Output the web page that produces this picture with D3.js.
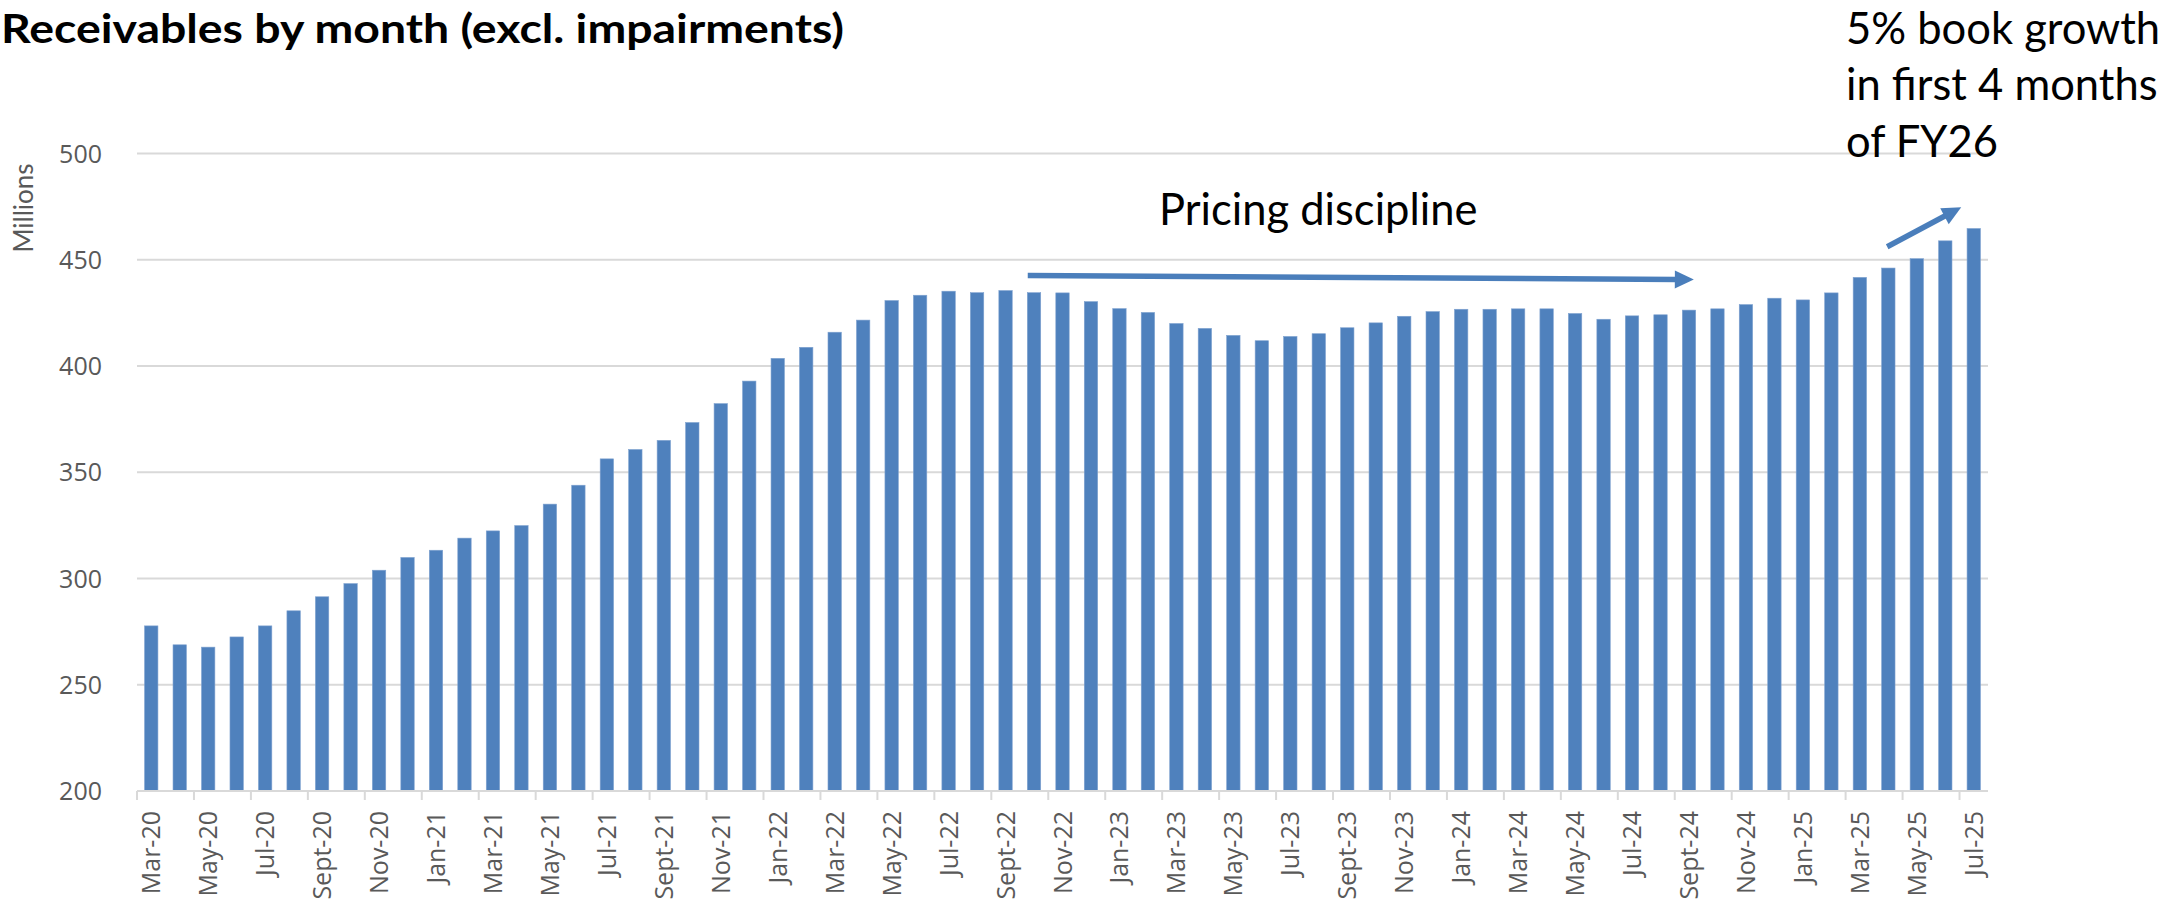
<!DOCTYPE html>
<html>
<head>
<meta charset="utf-8">
<script src="https://cdn.jsdelivr.net/npm/d3@7"></script>
<style>
  body { margin: 0; background: #fff; }
  svg { display: block; }
</style>
</head>
<body>
<svg width="2167" height="903"></svg>
<script>
// months, Mar-20 .. Jul-25
let months = [
  "Mar-20", "Apr-20", "May-20", "Jun-20", "Jul-20", "Aug-20", "Sept-20", "Oct-20", "Nov-20", "Dec-20",
  "Jan-21", "Feb-21", "Mar-21", "Apr-21", "May-21", "Jun-21", "Jul-21", "Aug-21", "Sept-21", "Oct-21", "Nov-21", "Dec-21",
  "Jan-22", "Feb-22", "Mar-22", "Apr-22", "May-22", "Jun-22", "Jul-22", "Aug-22", "Sept-22", "Oct-22", "Nov-22", "Dec-22",
  "Jan-23", "Feb-23", "Mar-23", "Apr-23", "May-23", "Jun-23", "Jul-23", "Aug-23", "Sept-23", "Oct-23", "Nov-23", "Dec-23",
  "Jan-24", "Feb-24", "Mar-24", "Apr-24", "May-24", "Jun-24", "Jul-24", "Aug-24", "Sept-24", "Oct-24", "Nov-24", "Dec-24",
  "Jan-25", "Feb-25", "Mar-25", "Apr-25", "May-25", "Jun-25", "Jul-25"
];

// receivables, millions
let receivables = [
  277.7, 268.8, 267.7, 272.5, 277.7, 284.8, 291.4, 297.6, 303.9, 309.9,
  313.3, 319.0, 322.4, 324.9, 335.0, 343.9, 356.3, 360.7, 365.0, 373.4, 382.3, 392.9,
  403.6, 408.8, 415.9, 421.6, 430.8, 433.3, 435.2, 434.5, 435.5, 434.5, 434.4, 430.3,
  427.0, 425.2, 420.0, 417.7, 414.4, 411.9, 413.9, 415.2, 418.0, 420.3, 423.4, 425.6,
  426.7, 426.7, 426.9, 426.9, 424.7, 422.0, 423.6, 424.1, 426.3, 426.9, 428.9, 431.9,
  431.1, 434.4, 441.7, 446.1, 450.5, 458.9, 464.7
];

let yTicks = [200, 250, 300, 350, 400, 450, 500];

let titleText = "Receivables by month (excl. impairments)";
let growthLines = ["5% book growth", "in first 4 months", "of FY26"];

let s = d3.select("svg");
let plotL = 137, plotR = 1988, plotT = 153.5, plotB = 791;
let tickFont = "'Open Sans'";

let x = d3.scaleBand()
    .domain(months)
    .range([plotL, plotR])
    .paddingInner(0.53)
    .paddingOuter(0.265);

let y = d3.scaleLinear()
    .domain([200, 500])
    .range([plotB, plotT]);

// position in category units, for the arrows
let xi = d3.scaleLinear().domain([0, months.length]).range([plotL, plotR]);

// gridlines
s.append("g")
    .selectAll("line")
    .data(yTicks.slice(1))
    .join("line")
    .attr("x1", plotL)
    .attr("x2", plotR)
    .attr("y1", d => y(d))
    .attr("y2", d => y(d))
    .attr("stroke", "#d9d9d9")
    .attr("stroke-width", 2);

// y tick labels
s.append("g")
    .selectAll("text")
    .data(yTicks)
    .join("text")
    .attr("x", 102)
    .attr("y", d => y(d))
    .attr("dy", "0.36em")
    .attr("text-anchor", "end")
    .attr("fill", "#595959")
    .style("font-family", tickFont)
    .style("font-size", "25px")
    .text(d => d);

// Millions
s.append("text")
    .attr("transform", "translate(33, 208) rotate(-90)")
    .attr("text-anchor", "middle")
    .attr("fill", "#595959")
    .style("font-family", "Lato")
    .style("font-size", "26px")
    .text("Millions");

// bars
s.append("g")
    .selectAll("rect")
    .data(receivables)
    .join("rect")
    .attr("x", (d, i) => x(months[i]))
    .attr("y", d => y(d))
    .attr("width", x.bandwidth())
    .attr("height", d => y(200) - y(d))
    .attr("fill", "#4f81bd")
    .attr("stroke", "#7fa2d0")
    .attr("stroke-width", 0.6);

// x axis line and ticks (every second month)
s.append("line")
    .attr("x1", plotL)
    .attr("x2", plotR)
    .attr("y1", plotB)
    .attr("y2", plotB)
    .attr("stroke", "#d9d9d9")
    .attr("stroke-width", 2);

let labelled = months.filter((m, i) => i % 2 === 0);

s.append("g")
    .selectAll("line")
    .data(labelled)
    .join("line")
    .attr("x1", d => x(d) - x.step() * x.paddingOuter())
    .attr("x2", d => x(d) - x.step() * x.paddingOuter())
    .attr("y1", plotB)
    .attr("y2", plotB + 9)
    .attr("stroke", "#d9d9d9")
    .attr("stroke-width", 2);

s.append("g")
    .selectAll("text")
    .data(labelled)
    .join("text")
    .attr("transform", d => "translate(" + (x(d) + x.bandwidth() / 2) + "," + (plotB + 20) + ") rotate(-90)")
    .attr("dy", "0.36em")
    .attr("text-anchor", "end")
    .attr("fill", "#595959")
    .style("font-family", tickFont)
    .style("font-size", "25px")
    .text(d => d);

// title
s.append("text")
    .attr("x", 1)
    .attr("y", 43)
    .attr("fill", "#000")
    .attr("textLength", 843)
    .attr("lengthAdjust", "spacingAndGlyphs")
    .style("font-family", "Lato")
    .style("font-weight", "bold")
    .style("font-size", "41px")
    .text(titleText);

// annotation text
s.append("text")
    .attr("x", 1159)
    .attr("y", 225)
    .attr("fill", "#000")
    .style("font-family", "Lato")
    .style("font-size", "43.5px")
    .text("Pricing discipline");

s.append("g")
    .selectAll("text")
    .data(growthLines)
    .join("text")
    .attr("x", 1846)
    .attr("y", (d, i) => 43.5 + i * 56.7)
    .attr("fill", "#000")
    .style("font-family", "Lato")
    .style("font-size", "43.5px")
    .text(d => d);

// arrows
let drawArrow = (x1, y1, x2, y2) => {
    let dx = x2 - x1, dy = y2 - y1;
    let len = Math.sqrt(dx * dx + dy * dy);
    let ux = dx / len, uy = dy / len;
    let head = 19, half = 9;
    let bx = x2 - ux * head, by = y2 - uy * head;
    s.append("line")
        .attr("x1", x1).attr("y1", y1)
        .attr("x2", bx + ux * 2).attr("y2", by + uy * 2)
        .attr("stroke", "#4a7ebb")
        .attr("stroke-width", 5.5);
    s.append("path")
        .attr("d", "M" + x2 + "," + y2 +
            " L" + (bx - uy * half) + "," + (by + ux * half) +
            " L" + (bx + uy * half) + "," + (by - ux * half) + " Z")
        .attr("fill", "#4a7ebb");
};

drawArrow(xi(31.28), y(442.6), xi(54.67), y(440.7));
drawArrow(xi(61.46), y(456.1), xi(64.06), y(474.7));
</script>
</body>
</html>
